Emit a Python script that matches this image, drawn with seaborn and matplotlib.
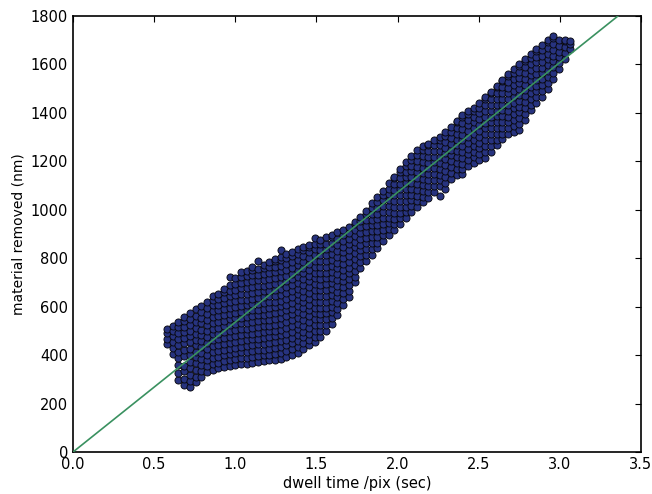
import matplotlib
matplotlib.use("Agg")
import matplotlib.pyplot as plt
import seaborn as sns
import pandas as pd

# Dwell time per pixel (s), one entry per column of measurements,
# and the material removed (nm) measured at each of those dwell times.
dwell_a = [0.580, 0.615, 0.650, 0.685, 0.720, 0.755, 0.790, 0.825, 0.860,
           0.895, 0.930, 0.965, 1.000, 1.035, 1.070, 1.105, 1.140, 1.175]
removed_a = [
    [446, 468, 490, 506],
    [404, 428, 455, 480, 501, 522],
    [298, 326, 360, 386, 412, 441, 466, 490, 514, 537],
    [276, 300, 333, 355, 396, 421, 448, 471, 494, 517, 540, 556],
    [270, 293, 318, 347, 373, 399, 426, 452, 477, 500, 524, 549, 574],
    [287, 311, 339, 366, 391, 414, 440, 463, 489, 513, 537, 561, 589],
    [309, 334, 357, 383, 407, 433, 458, 481, 505, 531, 553, 579, 603],
    [329, 353, 378, 401, 426, 450, 475, 499, 523, 546, 571, 595, 619],
    [340, 365, 389, 414, 439, 461, 485, 509, 533, 557, 581, 605, 627, 642],
    [346, 369, 394, 418, 441, 465, 489, 513, 536, 561, 585, 607, 631, 654],
    [350, 375, 399, 423, 447, 471, 495, 519, 542, 566, 591, 613, 637, 659, 673],
    [355, 379, 403, 427, 451, 475, 499, 523, 547, 571, 595, 619, 642, 665, 690, 721],
    [360, 385, 408, 431, 455, 479, 503, 527, 551, 575, 599, 623, 646, 669, 694, 716],
    [362, 387, 411, 435, 459, 483, 507, 531, 555, 579, 603, 627, 651, 675, 699, 722, 741],
    [365, 389, 413, 437, 461, 485, 509, 533, 557, 581, 605, 629, 653, 677, 701, 725, 749],
    [368, 392, 417, 441, 465, 489, 513, 537, 561, 585, 609, 633, 657, 681, 705, 729, 752, 763],
    [372, 396, 420, 444, 468, 492, 516, 540, 564, 588, 612, 636, 660, 684, 708, 732, 756, 790],
    [375, 399, 423, 447, 471, 495, 519, 543, 567, 591, 615, 639, 663, 687, 711, 735, 758, 772],
]

dwell_b = [1.210, 1.245, 1.280, 1.315, 1.350, 1.385, 1.420, 1.455, 1.490,
           1.525, 1.560, 1.595, 1.630, 1.665, 1.700, 1.735, 1.770]
removed_b = [
    [378, 402, 426, 450, 474, 498, 522, 546, 570, 594, 618, 642, 666, 690, 714, 738, 762, 786],
    [381, 405, 429, 453, 477, 501, 525, 549, 573, 597, 621, 645, 669, 693, 717, 741, 765, 789, 797],
    [385, 409, 433, 457, 481, 505, 529, 553, 577, 601, 625, 649, 673, 697, 721, 745, 769, 793, 806, 832],
    [392, 416, 440, 464, 488, 512, 536, 560, 584, 608, 632, 656, 680, 704, 728, 752, 776, 800, 816],
    [400, 424, 448, 472, 496, 520, 544, 568, 592, 616, 640, 664, 688, 712, 736, 760, 784, 808, 826],
    [410, 434, 458, 482, 506, 530, 554, 578, 602, 626, 650, 674, 698, 722, 746, 770, 794, 818, 836],
    [425, 449, 473, 497, 521, 545, 569, 593, 617, 641, 665, 689, 713, 737, 761, 785, 809, 833, 846],
    [440, 464, 488, 512, 536, 560, 584, 608, 632, 656, 680, 704, 728, 752, 776, 800, 824, 848, 856],
    [452, 476, 500, 524, 548, 572, 596, 620, 644, 668, 692, 716, 740, 764, 788, 812, 836, 860, 882],
    [475, 499, 523, 547, 571, 595, 619, 643, 667, 691, 715, 739, 763, 787, 811, 835, 859, 876],
    [500, 524, 548, 572, 596, 620, 644, 668, 692, 716, 740, 764, 788, 812, 836, 860, 886],
    [528, 552, 576, 600, 624, 648, 672, 696, 720, 744, 768, 792, 816, 840, 864, 888, 896],
    [566, 590, 614, 638, 662, 686, 710, 734, 758, 782, 806, 830, 854, 878, 906],
    [608, 632, 656, 680, 704, 728, 752, 776, 800, 824, 848, 872, 896, 916],
    [641, 665, 689, 713, 737, 761, 785, 809, 833, 857, 881, 905, 929],
    [700, 724, 748, 772, 796, 820, 844, 868, 892, 916, 940, 951],
    [760, 784, 808, 832, 856, 880, 904, 928, 952, 970],
]

dwell_c = [1.805, 1.840, 1.875, 1.910, 1.945, 1.980, 2.015, 2.050, 2.085,
           2.120, 2.155, 2.190, 2.225, 2.260, 2.295, 2.330, 2.365, 2.400, 2.435]
removed_c = [
    [790, 813, 837, 861, 885, 909, 933, 957, 981, 996],
    [815, 839, 863, 887, 911, 935, 959, 983, 1007, 1026],
    [840, 864, 888, 912, 936, 960, 984, 1008, 1032, 1051],
    [870, 894, 918, 942, 966, 990, 1014, 1038, 1062, 1076],
    [895, 919, 943, 967, 991, 1015, 1039, 1063, 1087, 1110],
    [915, 939, 963, 987, 1011, 1035, 1059, 1083, 1107, 1131, 1136],
    [940, 964, 988, 1012, 1036, 1060, 1084, 1108, 1132, 1156, 1166],
    [965, 989, 1013, 1037, 1061, 1085, 1109, 1133, 1157, 1181, 1196],
    [990, 1014, 1038, 1062, 1086, 1110, 1134, 1158, 1182, 1206, 1221],
    [1010, 1034, 1058, 1082, 1106, 1130, 1154, 1178, 1202, 1226, 1246],
    [1030, 1054, 1078, 1102, 1126, 1150, 1174, 1198, 1222, 1246, 1262],
    [1050, 1074, 1098, 1122, 1146, 1170, 1194, 1218, 1242, 1266, 1272],
    [1075, 1099, 1123, 1147, 1171, 1195, 1219, 1243, 1267, 1286],
    [1058, 1097, 1121, 1145, 1169, 1193, 1217, 1241, 1265, 1289, 1301],
    [1086, 1112, 1136, 1160, 1184, 1208, 1232, 1256, 1280, 1304, 1321],
    [1128, 1152, 1176, 1200, 1224, 1248, 1272, 1296, 1320, 1341],
    [1145, 1169, 1193, 1217, 1241, 1265, 1289, 1313, 1337, 1361, 1366],
    [1148, 1166, 1190, 1214, 1238, 1262, 1286, 1310, 1334, 1358, 1382, 1391],
    [1180, 1204, 1228, 1252, 1276, 1300, 1324, 1348, 1372, 1396, 1406],
]

dwell_d = [2.470, 2.505, 2.540, 2.575, 2.610, 2.645, 2.680, 2.715, 2.750,
           2.785, 2.820, 2.855, 2.890, 2.925, 2.960, 2.995, 3.030, 3.065]
removed_d = [
    [1192, 1216, 1240, 1264, 1288, 1312, 1336, 1360, 1384, 1408, 1421],
    [1205, 1229, 1253, 1277, 1301, 1325, 1349, 1373, 1397, 1421, 1440],
    [1215, 1239, 1263, 1287, 1311, 1335, 1359, 1383, 1407, 1431, 1455, 1466],
    [1240, 1264, 1288, 1312, 1336, 1360, 1384, 1408, 1432, 1456, 1480, 1486],
    [1265, 1289, 1313, 1337, 1361, 1385, 1409, 1433, 1457, 1481, 1505, 1511],
    [1290, 1314, 1338, 1362, 1386, 1410, 1434, 1458, 1482, 1506, 1530, 1536],
    [1312, 1336, 1360, 1384, 1408, 1432, 1456, 1480, 1504, 1528, 1552, 1561],
    [1322, 1346, 1370, 1394, 1418, 1442, 1466, 1490, 1514, 1538, 1562, 1581],
    [1329, 1353, 1377, 1401, 1425, 1449, 1473, 1497, 1521, 1545, 1569, 1593, 1601],
    [1372, 1396, 1420, 1444, 1468, 1492, 1516, 1540, 1564, 1588, 1612, 1621],
    [1410, 1434, 1458, 1482, 1506, 1530, 1554, 1578, 1602, 1626, 1641],
    [1440, 1464, 1488, 1512, 1536, 1560, 1584, 1608, 1632, 1656, 1661],
    [1466, 1490, 1514, 1538, 1562, 1586, 1610, 1634, 1658, 1681],
    [1500, 1524, 1548, 1572, 1596, 1620, 1644, 1668, 1692, 1700],
    [1540, 1564, 1588, 1612, 1636, 1660, 1684, 1708, 1716],
    [1580, 1604, 1628, 1652, 1676, 1700],
    [1622, 1646, 1670, 1694, 1702],
    [1662, 1684, 1698],
]

# Proportional removal-rate fit through the origin
fit_dwell = [0.0, 3.36]
fit_removed = [0.0, 1800.0]

x_ticks = [0.0, 0.5, 1.0, 1.5, 2.0, 2.5, 3.0, 3.5]
y_ticks = [0, 200, 400, 600, 800, 1000, 1200, 1400, 1600, 1800]

rows = []
for cols_t, cols_v in ((dwell_a, removed_a), (dwell_b, removed_b),
                       (dwell_c, removed_c), (dwell_d, removed_d)):
    for t, values in zip(cols_t, cols_v):
        for v in values:
            rows.append((t, v))
df = pd.DataFrame(rows, columns=["dwell", "removed"])

sns.set_theme(style="white")
plt.rcParams["font.family"] = ["DejaVu Sans"]
plt.rcParams.update({
    "xtick.direction": "in", "ytick.direction": "in",
    "xtick.top": True, "ytick.right": True,
    "xtick.major.size": 4, "ytick.major.size": 4,
    "xtick.major.width": 0.8, "ytick.major.width": 0.8,
    "xtick.color": "black", "ytick.color": "black",
})

fig = plt.figure(figsize=(6.52, 4.94), dpi=100)
ax = fig.add_axes([0.112, 0.085, 0.871, 0.883])

sns.scatterplot(data=df, x="dwell", y="removed", ax=ax, s=26,
                color="#27337f", edgecolor="#08080f", linewidth=0.65,
                zorder=2, legend=False)
sns.lineplot(x=fit_dwell, y=fit_removed, ax=ax, color="#3a9160",
             linewidth=1.2, zorder=3)

ax.set_xlim(0, 3.5)
ax.set_ylim(0, 1800)
ax.set_xticks(x_ticks)
ax.set_xticklabels([f"{t:.1f}" for t in x_ticks], fontsize=10.5)
ax.set_yticks(y_ticks)
ax.set_yticklabels([str(v) for v in y_ticks], fontsize=10.5)
ax.set_xlabel("dwell time /pix (sec)", fontsize=10.5, labelpad=3, color="black")
ax.set_ylabel("material removed (nm)", fontsize=10, labelpad=4, color="black")

for side in ax.spines.values():
    side.set_color("black")
    side.set_linewidth(1.2)

fig.savefig("out.png", dpi=100)
